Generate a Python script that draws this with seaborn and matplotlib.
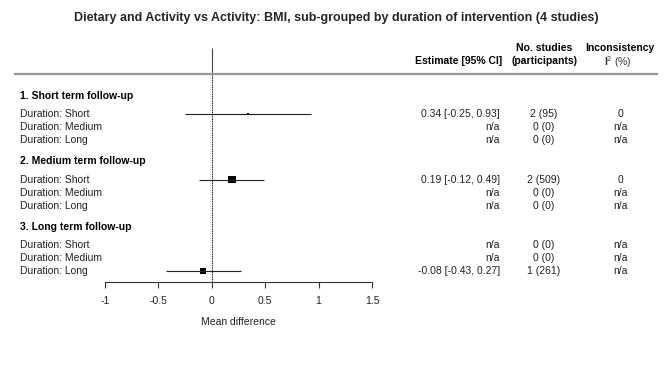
"""Forest plot: BMI, sub-grouped by duration of intervention."""

import matplotlib

matplotlib.use("Agg")
import matplotlib.pyplot as plt
import matplotlib.transforms as mtransforms
import numpy as np
import pandas as pd
import seaborn as sns

title = "Dietary and Activity vs Activity: BMI, sub-grouped by duration of intervention (4 studies)"
groups = ["1. Short term follow-up", "2. Medium term follow-up", "3. Long term follow-up"]
subgroups = ["Duration: Short", "Duration: Medium", "Duration: Long"]

estimate = [0.34, np.nan, np.nan, 0.19, np.nan, np.nan, np.nan, np.nan, -0.08]
ci_low = [-0.25, np.nan, np.nan, -0.12, np.nan, np.nan, np.nan, np.nan, -0.43]
ci_high = [0.93, np.nan, np.nan, 0.49, np.nan, np.nan, np.nan, np.nan, 0.27]
estimate_text = ["0.34 [-0.25, 0.93]", "n/a", "n/a", "0.19 [-0.12, 0.49]", "n/a", "n/a",
                 "n/a", "n/a", "-0.08 [-0.43, 0.27]"]
studies_text = ["2 (95)", "0 (0)", "0 (0)", "2 (509)", "0 (0)", "0 (0)", "0 (0)", "0 (0)", "1 (261)"]
i2_text = ["0", "n/a", "n/a", "0", "n/a", "n/a", "n/a", "n/a", "n/a"]
x_ticks = [-1, -0.5, 0, 0.5, 1, 1.5]
x_ticklabels = ["-1", "-0.5", "0", "0.5", "1", "1.5"]

sns.set_theme(style="white")
plt.rcParams["font.family"] = ["Liberation Sans", "DejaVu Sans"]
plt.rcParams["mathtext.fontset"] = "custom"
plt.rcParams["mathtext.rm"] = "Liberation Sans"
plt.rcParams["mathtext.bf"] = "Liberation Sans:bold"

W, H = 672, 373
fig = plt.figure(figsize=(W / 100, H / 100), dpi=100)
ax = fig.add_axes([105 / W, (H - 282) / H, 267 / W, 242 / H])

# row layout: group header, then its three subgroup rows
header_y = [g * 5 for g in range(len(groups))]
row_y = [g * 5 + 1.4 + i for g in range(len(groups)) for i in range(len(subgroups))]
row_label = [s for _ in groups for s in subgroups]

df = pd.DataFrame({"y": row_y, "label": row_label, "est": estimate,
                   "lo": ci_low, "hi": ci_high})
se = (df["hi"] - df["lo"]) / 3.92
df["box"] = (0.127 / se ** 2) ** 2  # box side ~ precision
pts = df.dropna()

ax.hlines(pts["y"], pts["lo"], pts["hi"], color="#222222", lw=0.8)
sns.scatterplot(data=pts, x="est", y="y", size="box", sizes=(0, float(pts["box"].max())),
                size_norm=(0, float(pts["box"].max())), marker="s", color="black",
                edgecolor="black", linewidth=0, legend=False, ax=ax)

ax.set_xlim(-1, 1.5)
ax.set_ylim(14.22, -4.25)
ax.vlines(0, -3.64, -1.69, color="#444444", lw=0.8)
ax.vlines(0, -1.69, 14.22, color="#222222", lw=0.8, linestyles=(0, (1, 0.6)))

for s in ["top", "right", "left"]:
    ax.spines[s].set_visible(False)
ax.spines["bottom"].set_color("#333333")
ax.spines["bottom"].set_linewidth(0.8)
ax.set_yticks([])
ax.set_xticks(x_ticks)
ax.set_xticklabels(x_ticklabels)
ax.tick_params(axis="x", direction="out", length=4.3, width=0.8, color="#333333",
               pad=6, labelsize=7.5, labelcolor="#222222", bottom=True)
ax.set_xlabel("Mean difference", fontsize=7.5, color="#222222", labelpad=8)
ax.set_ylabel("")

tr = mtransforms.blended_transform_factory(fig.transFigure, ax.transData)
fs = 7.5
txt = "#222222"

for g, name in zip(header_y, groups):
    ax.text(20 / W, g, name, transform=tr, fontsize=fs, fontweight="bold",
            va="center", ha="left", color="black", clip_on=False)
for y, lab, e, n, i2 in zip(row_y, row_label, estimate_text, studies_text, i2_text):
    ax.text(20 / W, y, lab, transform=tr, fontsize=fs, va="center", ha="left", color=txt)
    ax.text(500 / W, y, e, transform=tr, fontsize=fs, va="center", ha="right", color=txt)
    ax.text(544 / W, y, n, transform=tr, fontsize=fs, va="center", ha="center", color=txt)
    ax.text(620 / W, y, i2, transform=tr, fontsize=fs, va="center", ha="center", color=txt)

# column headers
ax.text(502 / W, -2.65, "Estimate [95% CI]", transform=tr, fontsize=fs, fontweight="bold",
        va="center", ha="right", color="black")
ax.text(544 / W, -3.64, "No. studies", transform=tr, fontsize=fs, fontweight="bold",
        va="center", ha="center", color="black")
ax.text(544 / W, -2.65, "(participants)", transform=tr, fontsize=fs, fontweight="bold",
        va="center", ha="center", color="black")
ax.text(620 / W, -3.64, "Inconsistency", transform=tr, fontsize=fs, fontweight="bold",
        va="center", ha="center", color="black")
ax.text(618 / W, -2.6, r"$\mathbf{I}^{2}$ (%)", transform=tr, fontsize=fs,
        va="center", ha="center", color="#333333")
ax.plot([14 / W, 658 / W], [-1.69, -1.69], transform=tr, color="#999999", lw=1.6,
        clip_on=False, solid_capstyle="butt")

fig.text(0.5, 1 - 18 / H, title, fontsize=9, fontweight="bold", ha="center", va="center")

fig.savefig("out.png", dpi=100)
